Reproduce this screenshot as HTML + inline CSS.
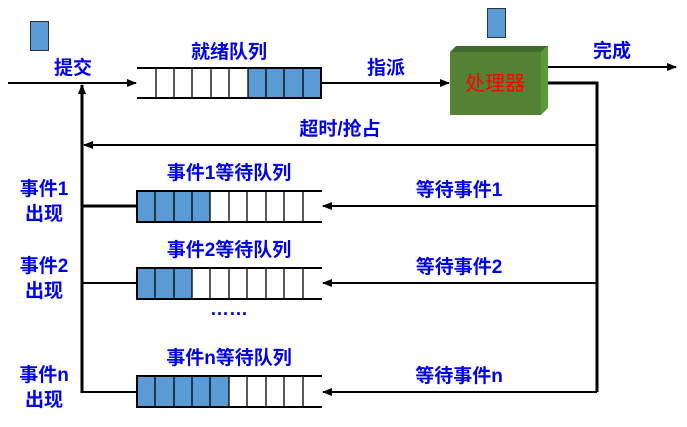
<!DOCTYPE html>
<html><head><meta charset="utf-8"><style>
html,body{margin:0;padding:0;background:#fff;}
svg{display:block;}
text{font-family:"Liberation Sans","Noto Sans CJK SC","WenQuanYi Zen Hei",sans-serif;font-weight:bold;font-size:19px;fill:#0000ee;text-anchor:middle;}
</style></head><body>
<svg width="687" height="427" viewBox="0 0 687 427" xmlns="http://www.w3.org/2000/svg">
<defs>
<marker id="a" markerWidth="10" markerHeight="8" refX="9" refY="4" orient="auto" markerUnits="userSpaceOnUse">
<path d="M0,0 L10,4 L0,8 Z" fill="#000"/></marker>
</defs>
<rect x="30.5" y="21.5" width="18" height="29" fill="#5b9bd5" stroke="#333" stroke-width="1"/>
<rect x="487.5" y="8.5" width="18" height="29" fill="#5b9bd5" stroke="#333" stroke-width="1"/>

<line x1="8" y1="83" x2="136" y2="83" stroke="#000" stroke-width="2" marker-end="url(#a)"/>
<text x="73" y="74">提交</text>

<rect x="248" y="68" width="73" height="30" fill="#5b9bd5"/>
<g stroke="#000" stroke-width="2" fill="none">
<line x1="137" y1="68" x2="321" y2="68"/>
<line x1="137" y1="98" x2="321" y2="98"/>
<line x1="321" y1="67" x2="321" y2="99"/>
</g>
<g stroke="#000" stroke-width="1.3">
<line x1="156" y1="68" x2="156" y2="98"/><line x1="174" y1="68" x2="174" y2="98"/>
<line x1="192" y1="68" x2="192" y2="98"/><line x1="211" y1="68" x2="211" y2="98"/>
<line x1="229" y1="68" x2="229" y2="98"/><line x1="248" y1="68" x2="248" y2="98"/>
<line x1="266" y1="68" x2="266" y2="98"/><line x1="284" y1="68" x2="284" y2="98"/>
<line x1="303" y1="68" x2="303" y2="98"/>
</g>
<text x="229" y="58">就绪队列</text>

<line x1="321" y1="83" x2="449" y2="83" stroke="#000" stroke-width="2" marker-end="url(#a)"/>
<text x="386" y="74">指派</text>

<polygon points="450,52 456,46 548,46 541,52" fill="#3f6b2a"/>
<polygon points="541,52 548,46 548,108 541,115" fill="#5a9a3a"/>
<rect x="450" y="52" width="91" height="63" fill="#548235"/>
<text x="495" y="90" style="fill:#ff0000;font-weight:normal;font-size:20px">处理器</text>

<line x1="548" y1="67" x2="676" y2="67" stroke="#000" stroke-width="2" marker-end="url(#a)"/>
<text x="612" y="57">完成</text>

<polyline points="548,83 597,83 597,392" fill="none" stroke="#000" stroke-width="3"/>
<line x1="597" y1="145" x2="84" y2="145" stroke="#000" stroke-width="2" marker-end="url(#a)"/>
<text x="340" y="135">超时/抢占</text>

<line x1="82" y1="393" x2="82" y2="85" stroke="#000" stroke-width="3" marker-end="url(#a)"/>

<line x1="597" y1="206" x2="323" y2="206" stroke="#000" stroke-width="2" marker-end="url(#a)"/>
<line x1="597" y1="283" x2="323" y2="283" stroke="#000" stroke-width="2" marker-end="url(#a)"/>
<line x1="597" y1="392" x2="323" y2="392" stroke="#000" stroke-width="2" marker-end="url(#a)"/>
<text x="459" y="196">等待事件1</text>
<text x="459" y="273">等待事件2</text>
<text x="459" y="382">等待事件n</text>

<line x1="82" y1="206" x2="137" y2="206" stroke="#000" stroke-width="3"/>
<line x1="82" y1="283" x2="137" y2="283" stroke="#000" stroke-width="2"/>
<line x1="82" y1="392" x2="137" y2="392" stroke="#000" stroke-width="2"/>

<rect x="137" y="191" width="73" height="31" fill="#5b9bd5"/>
<rect x="137" y="268" width="55" height="31" fill="#5b9bd5"/>
<rect x="137" y="376" width="92" height="31" fill="#5b9bd5"/>
<g stroke="#000" stroke-width="2" fill="none">
<path d="M322,191 H137 V222 H322"/>
<path d="M322,268 H137 V299 H322"/>
<path d="M322,376 H137 V407 H322"/>
</g>
<g stroke="#000" stroke-width="1.3">
<path d="M155,191V222M174,191V222M192,191V222M210,191V222M229,191V222M247,191V222M266,191V222M284,191V222M303,191V222"/>
<path d="M155,268V299M174,268V299M192,268V299M210,268V299M229,268V299M247,268V299M266,268V299M284,268V299M303,268V299"/>
<path d="M155,376V407M174,376V407M192,376V407M210,376V407M229,376V407M247,376V407M266,376V407M284,376V407M303,376V407"/>
</g>
<text x="229" y="179">事件1等待队列</text>
<text x="229" y="256">事件2等待队列</text>
<text x="229" y="364">事件n等待队列</text>
<text x="229" y="315">……</text>

<text x="44" y="195">事件1</text>
<text x="44" y="220">出现</text>
<text x="44" y="272">事件2</text>
<text x="44" y="297">出现</text>
<text x="44" y="381">事件n</text>
<text x="44" y="406">出现</text>
</svg>
</body></html>
